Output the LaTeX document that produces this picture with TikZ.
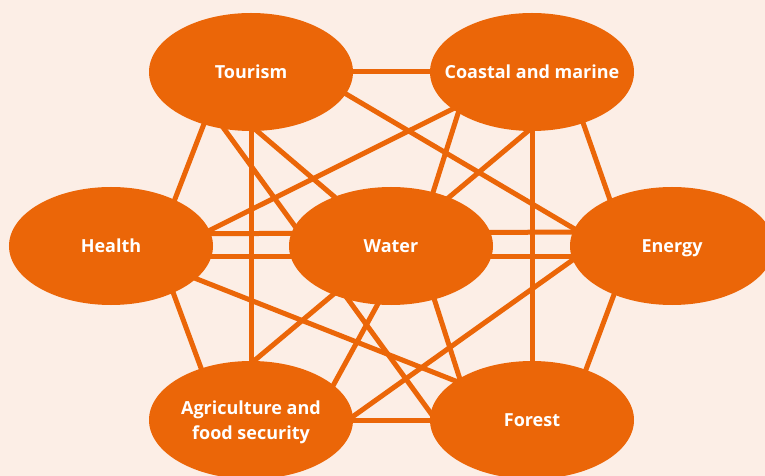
\documentclass[tikz,border=0pt]{standalone}
\usepackage{fontspec}
\setmainfont{Open Sans}
\usetikzlibrary{shapes}
\usetikzlibrary{positioning}

\definecolor{sectororange}{RGB}{235,102,8}
\definecolor{sectorbg}{RGB}{252,238,230}

\pgfdeclarelayer{bg}
\pgfdeclarelayer{links}
\pgfsetlayers{bg,links,main}

\tikzset{
  sector/.style={ellipse,fill=sectororange,minimum width=204bp,minimum height=118bp,inner sep=0pt},
  sectortext/.style={text=white,font=\bfseries\fontsize{18bp}{25bp}\selectfont,align=center,text depth=0pt},
  link/.style={sectororange,line width=5bp,shorten <=-4bp,shorten >=-4bp}
}

\begin{document}
\begin{tikzpicture}[x=1bp,y=-1bp]
\useasboundingbox (0,0) rectangle (765,476);
\begin{pgfonlayer}{bg}
\fill[sectorbg] (0,0) rectangle (765,476);
\end{pgfonlayer}
\clip (0,0) rectangle (765,476);

% sectors
\node[sector,label={[sectortext]center:Tourism}] (T) at (251,72) {};
\node[sector,label={[sectortext]center:Coastal and marine}] (C) at (532,72) {};
\node[sector,label={[sectortext]center:Health}] (H) at (111,246) {};
\node[sector,label={[sectortext]center:Water}] (W) at (391,246) {};
\node[sector,label={[sectortext]center:Energy}] (E) at (672,246) {};
\node[sector,label={[sectortext]center:Agriculture and\\food security}] (A) at (251,420) {};
\node[sector,label={[sectortext]center:Forest}] (F) at (532,420) {};

% every sector linked to every other
\begin{pgfonlayer}{links}
\draw[link] (T.east) -- (C.west);
\draw[link] (T.-13.5) -- (E.170.8);
\draw[link] (T.-132.8) -- (H.36.6);
\draw[link] (T.south) -- (A.north);
\draw[link] (T.-84) -- (W.139.8);
\draw[link] (T.-115.8) -- (F.176);
\draw[link] (C.-155.8) -- (H.9.4);
\draw[link] (C.-151) -- (W.52.8);
\draw[link] (C.-94) -- (A.87);
\draw[link] (C.south) -- (F.north);
\draw[link] (C.-45) -- (E.143.4);
\draw[link] (H.7.7) -- (E.172.3);
\draw[link] (H.-6.6) -- (W.186.6);
\draw[link] (W.-6.6) -- (E.186.6);
\draw[link] (H.-37.6) -- (A.134.4);
\draw[link] (H.-21.4) -- (F.153.7);
\draw[link] (W.-103.6) -- (A.23.7);
\draw[link] (W.-51.6) -- (F.150.4);
\draw[link] (E.188.6) -- (A.2.2);
\draw[link] (E.-140.9) -- (F.43.9);
\draw[link] (A.east) -- (F.west);
\end{pgfonlayer}

\end{tikzpicture}
\end{document}
